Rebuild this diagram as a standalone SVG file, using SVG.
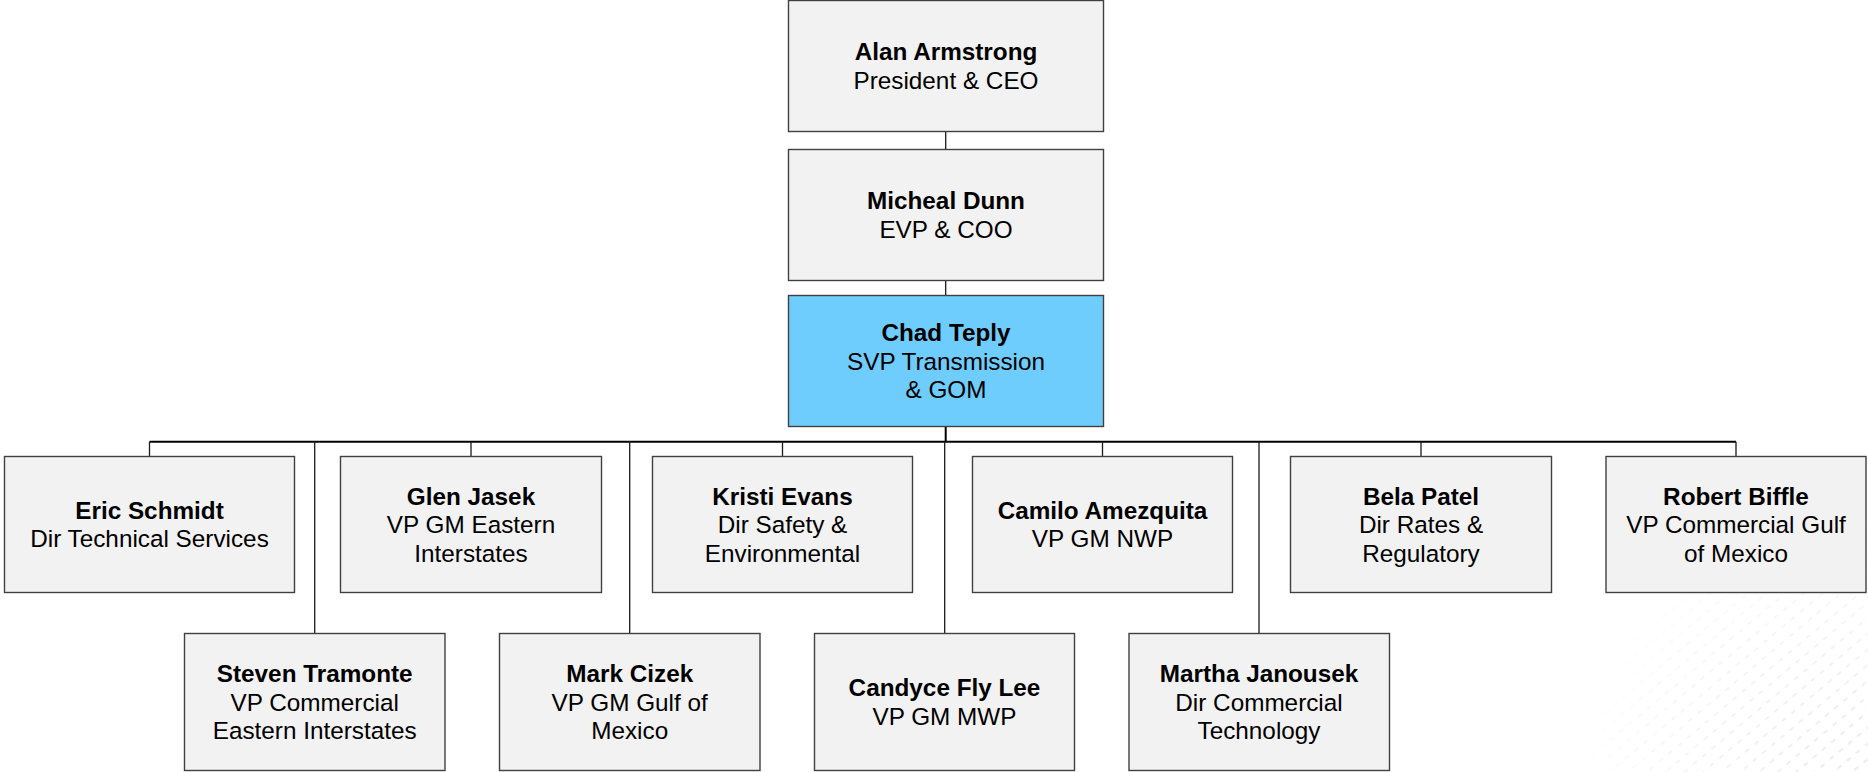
<svg xmlns="http://www.w3.org/2000/svg" width="1868" height="772" viewBox="0 0 1868 772">
<style>
.box{fill:#f2f2f2;stroke:#404040;stroke-width:1.4}
.hl{fill:#6fcdfd;stroke:#404040;stroke-width:1.4}
text{font-family:"Liberation Sans",Arial,sans-serif;font-size:24.3px;fill:#000;text-anchor:middle}
.n{font-weight:bold}
.c{stroke:#1a1a1a;stroke-width:1.3;fill:none}
.bus{stroke:#000;stroke-width:2;fill:none}
</style>
<defs>
<pattern id="dots" width="12" height="12" patternUnits="userSpaceOnUse" patternTransform="rotate(-40)">
<line x1="2" y1="6" x2="6" y2="6" stroke="#e2e2e2" stroke-width="1.5" stroke-linecap="round"/>
</pattern>
<radialGradient id="fade" cx="1868" cy="800" r="300" gradientUnits="userSpaceOnUse">
<stop offset="0" stop-color="#fff" stop-opacity="1"/>
<stop offset="0.55" stop-color="#fff" stop-opacity="0.5"/>
<stop offset="1" stop-color="#fff" stop-opacity="0"/>
</radialGradient>
<mask id="m"><rect x="1500" y="450" width="368" height="322" fill="url(#fade)"/></mask>
</defs>
<rect width="1868" height="772" fill="#fff"/>
<rect x="1500" y="450" width="368" height="322" fill="url(#dots)" mask="url(#m)"/>

<g id="connectors">
<line class="c" x1="945.7" y1="131.5" x2="945.7" y2="149.5"/>
<line class="c" x1="945.7" y1="280.5" x2="945.7" y2="295.5"/>
<line class="bus" x1="945.7" y1="426.5" x2="945.7" y2="441.7"/>
<line class="bus" x1="149.5" y1="441.7" x2="1736" y2="441.7"/>
<line class="c" x1="149.5" y1="441.7" x2="149.5" y2="456.5"/>
<line class="c" x1="471" y1="441.7" x2="471" y2="456.5"/>
<line class="c" x1="782.5" y1="441.7" x2="782.5" y2="456.5"/>
<line class="c" x1="1102.5" y1="441.7" x2="1102.5" y2="456.5"/>
<line class="c" x1="1421" y1="441.7" x2="1421" y2="456.5"/>
<line class="c" x1="1736" y1="441.7" x2="1736" y2="456.5"/>
<line class="c" x1="314.7" y1="441.7" x2="314.7" y2="633.5"/>
<line class="c" x1="629.7" y1="441.7" x2="629.7" y2="633.5"/>
<line class="c" x1="944.7" y1="441.7" x2="944.7" y2="633.5"/>
<line class="c" x1="1259" y1="441.7" x2="1259" y2="633.5"/>
</g>

<g id="alan"><rect class="box" x="788.5" y="0.5" width="315" height="131"/>
<text x="946" y="60.25" class="n">Alan Armstrong</text><text x="946" y="88.75">President &amp; CEO</text></g>
<g id="micheal"><rect class="box" x="788.5" y="149.5" width="315" height="131"/>
<text x="946" y="209.25" class="n">Micheal Dunn</text><text x="946" y="237.75">EVP &amp; COO</text></g>
<g id="chad"><rect class="hl" x="788.5" y="295.5" width="315" height="131"/>
<text x="946" y="341" class="n">Chad Teply</text><text x="946" y="369.5">SVP Transmission</text><text x="946" y="398">&amp; GOM</text></g>

<g id="eric"><rect class="box" x="4.5" y="456.5" width="290" height="136"/>
<text x="149.5" y="518.75" class="n">Eric Schmidt</text><text x="149.5" y="547.25">Dir Technical Services</text></g>
<g id="glen"><rect class="box" x="340.5" y="456.5" width="261" height="136"/>
<text x="471" y="504.5" class="n">Glen Jasek</text><text x="471" y="533">VP GM Eastern</text><text x="471" y="561.5">Interstates</text></g>
<g id="kristi"><rect class="box" x="652.5" y="456.5" width="260" height="136"/>
<text x="782.5" y="504.5" class="n">Kristi Evans</text><text x="782.5" y="533">Dir Safety &amp;</text><text x="782.5" y="561.5">Environmental</text></g>
<g id="camilo"><rect class="box" x="972.5" y="456.5" width="260" height="136"/>
<text x="1102.5" y="518.75" class="n">Camilo Amezquita</text><text x="1102.5" y="547.25">VP GM NWP</text></g>
<g id="bela"><rect class="box" x="1290.5" y="456.5" width="261" height="136"/>
<text x="1421" y="504.5" class="n">Bela Patel</text><text x="1421" y="533">Dir Rates &amp;</text><text x="1421" y="561.5">Regulatory</text></g>
<g id="robert"><rect class="box" x="1606" y="456.5" width="260" height="136"/>
<text x="1736" y="504.5" class="n">Robert Biffle</text><text x="1736" y="533">VP Commercial Gulf</text><text x="1736" y="561.5">of Mexico</text></g>

<g id="steven"><rect class="box" x="184.5" y="633.5" width="260.5" height="137"/>
<text x="314.7" y="682" class="n">Steven Tramonte</text><text x="314.7" y="710.5">VP Commercial</text><text x="314.7" y="739">Eastern Interstates</text></g>
<g id="mark"><rect class="box" x="499.5" y="633.5" width="260.5" height="137"/>
<text x="629.7" y="682" class="n">Mark Cizek</text><text x="629.7" y="710.5">VP GM Gulf of</text><text x="629.7" y="739">Mexico</text></g>
<g id="candyce"><rect class="box" x="814.5" y="633.5" width="260" height="137"/>
<text x="944.5" y="696.25" class="n">Candyce Fly Lee</text><text x="944.5" y="724.75">VP GM MWP</text></g>
<g id="martha"><rect class="box" x="1129" y="633.5" width="260.5" height="137"/>
<text x="1259" y="682" class="n">Martha Janousek</text><text x="1259" y="710.5">Dir Commercial</text><text x="1259" y="739">Technology</text></g>
</svg>
